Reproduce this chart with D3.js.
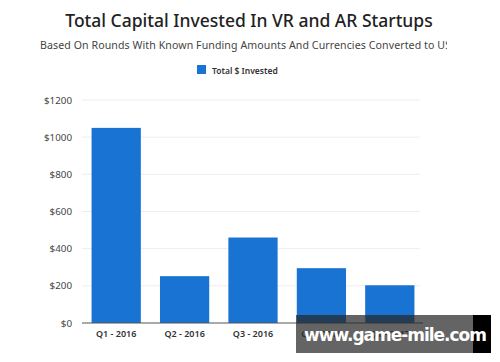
<!DOCTYPE html>
<html>
<head>
<meta charset="utf-8">
<script src="https://cdn.jsdelivr.net/npm/d3@7"></script>
<style>
  body { margin: 0; background: #fff; }
  svg { display: block; font-family: "Noto Sans", "Open Sans", sans-serif; }
</style>
</head>
<body>
<svg id="chart" width="500" height="362"></svg>
<script>
const quarters = ["Q1 - 2016", "Q2 - 2016", "Q3 - 2016", "Q4 - 2016", "Q1 - 2017"];
const invested = [1050, 252, 460, 295, 203];
const yTicks = [0, 200, 400, 600, 800, 1000, 1200];

const svg = d3.select("#chart");

const x = d3.scaleBand().domain(quarters).range([82, 424]).paddingInner(0.28).paddingOuter(0.14);
const y = d3.scaleLinear().domain([0, 1200]).range([323, 100]);

// titles
svg.append("text")
  .attr("x", 249).attr("y", 27)
  .attr("text-anchor", "middle")
  .attr("font-size", 17.5).attr("font-weight", 500)
  .attr("fill", "#222")
  .text("Total Capital Invested In VR and AR Startups");

svg.append("clipPath").attr("id", "subclip")
  .append("rect").attr("x", 0).attr("y", 30).attr("width", 447).attr("height", 25);

svg.append("text")
  .attr("clip-path", "url(#subclip)")
  .attr("x", 40).attr("y", 49)
  .attr("font-size", 10.6)
  .attr("fill", "#444")
  .attr("textLength", 411)
  .text("Based On Rounds With Known Funding Amounts And Currencies Converted to US");

// legend
svg.append("rect").attr("x", 197).attr("y", 65).attr("width", 9).attr("height", 9).attr("fill", "#1873d3");
svg.append("text")
  .attr("x", 212).attr("y", 73.5)
  .attr("font-size", 8.5).attr("font-weight", 600)
  .attr("fill", "#333")
  .text("Total $ Invested");

// grid
svg.append("g").selectAll("line")
  .data(yTicks.filter(d => d > 0))
  .join("line")
  .attr("x1", 82).attr("x2", 420)
  .attr("y1", d => y(d)).attr("y2", d => y(d))
  .attr("stroke", "#eee");

// y axis labels
const yAxis = svg.append("g")
  .attr("transform", "translate(82,0)")
  .call(d3.axisLeft(y).tickValues(yTicks).tickSize(0).tickPadding(10).tickFormat(d => "$" + d));
yAxis.select(".domain").remove();
yAxis.selectAll("text").attr("font-size", 9.8).attr("fill", "#444").attr("font-family", "Noto Sans, sans-serif");

// bars
svg.append("g").selectAll("rect")
  .data(invested)
  .join("rect")
  .attr("x", (d, i) => x(quarters[i]))
  .attr("width", x.bandwidth())
  .attr("y", d => y(d))
  .attr("height", d => y(0) - y(d))
  .attr("fill", "#1873d3");

// x axis
const xAxis = svg.append("g")
  .attr("transform", "translate(0,323)")
  .call(d3.axisBottom(x).tickSize(0).tickPadding(8));
xAxis.select(".domain").attr("stroke", "#555").attr("stroke-width", 1.2).attr("d", "M82,0H423");
xAxis.selectAll("text").attr("font-size", 9).attr("font-weight", 600).attr("fill", "#333").attr("font-family", "Noto Sans, sans-serif");

// watermark
svg.append("rect").attr("x", 296).attr("y", 315).attr("width", 178).attr("height", 38).attr("fill", "rgba(40,40,40,0.72)");
svg.append("rect").attr("x", 473).attr("y", 315).attr("width", 18).attr("height", 38).attr("fill", "#000");
svg.append("text")
  .attr("x", 304).attr("y", 341)
  .attr("font-size", 17).attr("font-weight", 700)
  .attr("fill", "#fff")
  .attr("font-family", "DejaVu Sans, sans-serif")
  .attr("textLength", 183)
  .text("www.game-mile.com");
</script>
</body>
</html>
